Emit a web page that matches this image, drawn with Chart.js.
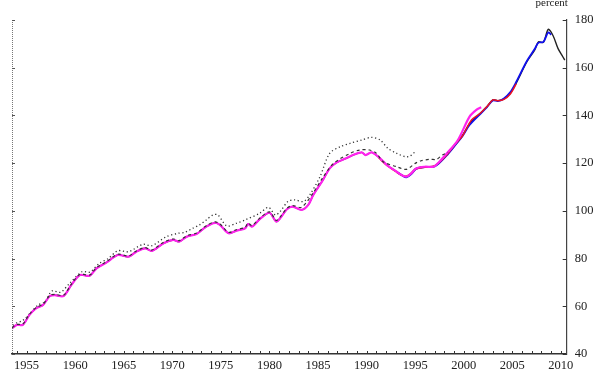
<!DOCTYPE html>
<html>
<head>
<meta charset="utf-8">
<script src="https://cdn.jsdelivr.net/npm/chart.js@4.4.1/dist/chart.umd.min.js"></script>
<style>
  html, body { margin: 0; padding: 0; background: #fff; }
  #wrap { width: 600px; height: 381px; position: relative; }
</style>
</head>
<body>
<div id="wrap"><canvas id="c" width="600" height="381"></canvas></div>
<script>
// ---- data ----
const mainYears = [1953.5,1954.0,1954.6,1955.3,1956.0,1956.7,1957.4,1957.9,1958.8,1959.6,1960.5,1961.5,1962.2,1963.2,1964.4,1965.5,1966.3,1967.2,1967.9,1969.1,1970.1,1970.7,1971.5,1972.5,1973.5,1974.4,1974.9,1975.8,1976.6,1977.5,1977.8,1978.2,1979.0,1980.0,1980.7,1981.1,1981.8,1982.4,1983.3,1984.0,1984.5,1985.5,1986.2,1986.9,1987.9,1988.6,1989.5,1989.9,1990.5,1991.2,1992.1,1993.1,1993.6,1994.1,1994.6,1995.1,1996.0,1996.9,1997.4,1998.2,1999.1,1999.9,2000.6,2001.7,2002.4,2003.0,2003.5,2004.1,2004.8,2005.4,2006.5,2007.3,2007.7,2008.2,2008.7,2009.2,2009.7,2010.2,2010.4];
const mainValues = [50.8,52.2,52.2,56.4,59.2,60.6,64.3,64.7,64.3,68.9,73.1,72.8,75.9,78.3,81.5,80.8,82.9,84.3,83.2,86.4,87.8,87.1,89.2,90.3,93.4,95.0,94.1,90.6,91.7,92.7,94.5,93.4,96.5,99.2,95.5,96.9,100.7,101.8,100.4,102.5,106.6,112.9,117.8,120.2,122.0,123.4,124.5,123.4,124.5,122.7,119.2,116.4,115.0,114.3,115.7,117.8,118.5,118.5,119.9,123.4,127.6,131.8,136.5,140.9,143.7,146.5,146.2,146.8,149.3,153.5,162.5,167.4,170.9,170.6,176.1,173.4,168.1,164.6,163.2];

const magentaYears = [1953.5,1954.0,1954.6,1955.3,1956.0,1956.7,1957.4,1957.9,1958.8,1959.6,1960.5,1961.5,1962.2,1963.2,1964.4,1965.5,1966.3,1967.2,1967.9,1969.1,1970.1,1970.7,1971.5,1972.5,1973.5,1974.4,1974.9,1975.8,1976.6,1977.5,1977.8,1978.2,1979.0,1980.0,1980.7,1981.1,1981.8,1982.4,1983.3,1984.0,1984.5,1985.5,1986.2,1986.9,1987.9,1988.6,1989.5,1989.9,1990.5,1991.2,1992.1,1993.1,1993.6,1994.1,1994.6,1995.1,1996.0,1996.9,1997.4,1998.2,1999.4,2000.6,2001.3,2001.8];
const magentaValues = [50.8,52.2,52.2,56.4,59.2,60.6,64.3,64.7,64.3,68.9,73.1,72.8,75.9,78.3,81.5,80.8,82.9,84.3,83.2,86.4,87.8,87.1,89.2,90.3,93.4,95.0,94.1,90.6,91.7,92.7,94.5,93.4,96.5,99.2,95.5,96.9,100.7,101.8,100.4,102.5,106.6,112.9,117.8,120.2,122.0,123.4,124.5,123.4,124.5,122.7,119.2,116.4,115.0,114.3,115.7,117.8,118.5,118.5,120.2,123.8,129.7,139.5,142.3,143.4];

const redYears = [1991.2,1992.1,1993.1,1993.6,1994.1,1994.6,1995.1,1996.0,1996.9,1997.4,1998.2,1999.1,1999.9,2000.8,2001.7,2002.4,2003.0,2003.5,2004.1,2004.8,2005.4];
const redValues = [122.5,119.0,116.2,115.0,114.5,115.8,117.6,118.3,118.7,120.0,123.2,127.8,131.6,138.1,140.9,143.7,146.5,146.2,146.6,149.0,153.2];

const blueYears = [1993.1,1993.6,1994.1,1994.6,1995.1,1996.0,1996.9,1997.4,1998.2,1999.1,1999.9,2000.6,2001.7,2002.4,2003.0,2003.5,2004.1,2004.8,2005.4,2006.5,2007.3,2007.7,2008.2,2008.7,2009.0];
const blueValues = [116.4,115.0,114.0,115.4,117.6,118.3,118.5,119.7,123.0,127.4,131.5,136.0,140.6,143.5,146.3,146.0,147.0,149.8,154.0,162.8,167.8,170.5,170.8,174.8,173.8];

const dashedYears = [1953.5,1954.0,1954.6,1955.3,1956.0,1956.7,1957.4,1957.9,1958.8,1959.6,1960.5,1961.5,1962.2,1963.2,1964.4,1965.5,1966.3,1967.2,1967.9,1969.1,1970.1,1970.7,1971.5,1972.5,1973.5,1974.4,1974.9,1975.8,1976.6,1977.5,1977.8,1978.2,1979.0,1980.0,1980.7,1981.1,1981.8,1982.4,1983.3,1984.5,1985.5,1986.6,1988.3,1989.3,1990.3,1991.0,1991.7,1993.1,1994.1,1995.0,1995.6,1996.5,1997.2,1997.8,1998.4];
const dashedValues = [51.0,52.4,52.5,56.7,59.5,60.9,64.6,65.0,64.6,69.2,73.4,73.1,76.2,78.6,81.8,81.1,83.2,84.6,83.6,86.8,88.2,87.5,89.6,90.7,93.8,95.4,94.5,91.0,92.1,93.1,94.9,93.8,96.9,99.6,96.0,97.4,101.1,102.2,101.5,107.5,114.0,119.9,124.1,125.5,125.5,124.2,120.6,118.5,117.4,119.9,121.0,121.6,121.6,123.4,124.5];

const dottedYears = [1953.6,1954.0,1954.6,1955.5,1956.2,1956.9,1957.6,1958.5,1959.4,1960.7,1961.5,1962.5,1963.4,1964.4,1965.5,1967.0,1967.9,1969.4,1970.6,1971.3,1972.1,1972.8,1973.5,1974.2,1974.7,1975.6,1976.6,1977.5,1979.0,1979.9,1980.6,1981.1,1981.9,1982.6,1983.5,1984.2,1985.2,1986.2,1987.3,1988.3,1989.5,1990.5,1991.4,1992.2,1993.1,1994.0,1994.5,1995.0];
const dottedValues = [52.0,53.1,54.0,57.7,60.6,61.9,66.4,65.9,69.5,74.5,74.3,78.0,80.0,83.3,82.9,86.0,85.4,89.2,90.6,91.0,92.7,94.1,96.2,98.3,98.3,93.7,94.8,96.2,99.0,101.5,98.3,99.7,103.9,104.6,103.9,107.0,114.3,124.1,126.9,128.3,129.7,130.8,129.7,126.2,124.1,122.7,123.0,124.8];

const yTickValues = [40,60,80,100,120,140,160,180];
const xLabelYears = [1955,1960,1965,1970,1975,1980,1985,1990,1995,2000,2005,2010];
const xMinorFirst = 1954, xMinorLast = 2010;
const unitLabel = 'percent';

function pts(xs, ys) { return xs.map((x, i) => ({x: x, y: ys[i]})); }

const SERIF = '"Liberation Serif", "DejaVu Serif", serif';

const axisDeco = {
  id: 'axisDeco',
  afterDraw(chart) {
    const ctx = chart.ctx, a = chart.chartArea;
    const xs = chart.scales.x, ys = chart.scales.y;
    ctx.save();
    // left dotted axis
    ctx.strokeStyle = '#777';
    ctx.lineWidth = 1;
    ctx.setLineDash([1, 1]);
    ctx.beginPath();
    ctx.moveTo(a.left + 0.5, a.top);
    ctx.lineTo(a.left + 0.5, a.bottom);
    ctx.stroke();
    ctx.setLineDash([]);
    // left ticks
    ctx.strokeStyle = '#555';
    yTickValues.forEach(v => {
      const y = Math.round(ys.getPixelForValue(v)) + 0.5;
      ctx.beginPath(); ctx.moveTo(a.left, y); ctx.lineTo(a.left + 3, y); ctx.stroke();
    });
    // right ticks
    ctx.strokeStyle = '#333';
    yTickValues.forEach(v => {
      const y = Math.round(ys.getPixelForValue(v)) + 0.5;
      ctx.beginPath(); ctx.moveTo(a.right, y); ctx.lineTo(a.right - 4, y); ctx.stroke();
    });
    // bottom ticks (every year)
    for (let yr = xMinorFirst; yr <= xMinorLast; yr++) {
      const x = Math.round(xs.getPixelForValue(yr)) + 0.5;
      ctx.beginPath(); ctx.moveTo(x, a.bottom); ctx.lineTo(x, a.bottom - 3); ctx.stroke();
    }
    // unit label
    ctx.fillStyle = '#222';
    ctx.font = '11px ' + SERIF;
    ctx.textAlign = 'center';
    ctx.textBaseline = 'alphabetic';
    ctx.fillText(unitLabel, a.right - 15, 6);
    ctx.restore();
  }
};

new Chart(document.getElementById('c'), {
  type: 'line',
  data: {
    datasets: [
      { data: pts(dashedYears, dashedValues), borderColor: '#333', borderWidth: 1.2, borderDash: [3, 3], order: 0 },
      { data: pts(magentaYears, magentaValues), borderColor: '#ff22ee', borderWidth: 2.2, order: 1 },
      { data: pts(redYears, redValues), borderColor: '#ee1122', borderWidth: 1.5, order: 2 },
      { data: pts(blueYears, blueValues), borderColor: '#1010ee', borderWidth: 1.8, order: 3 },
      { data: pts(dottedYears, dottedValues), borderColor: '#333', borderWidth: 1.3, borderDash: [1.2, 2.6], order: 4 },
      { data: pts(mainYears, mainValues), borderColor: '#222', borderWidth: 1.4, order: 6 }
    ]
  },
  options: {
    responsive: false,
    animation: false,
    elements: { point: { radius: 0 }, line: { tension: 0.3, fill: false } },
    layout: { padding: { left: 12, top: 20, right: 0, bottom: 0 } },
    plugins: { legend: { display: false }, tooltip: { enabled: false }, title: { display: false } },
    scales: {
      x: {
        type: 'linear',
        position: 'bottom',
        min: 1953.5,
        max: 2010.6,
        afterFit(s) { s.height = 27; },
        afterBuildTicks(s) { s.ticks = xLabelYears.map(v => ({ value: v })); },
        grid: { display: false, drawTicks: false },
        border: { display: true, color: '#333', width: 1.5 },
        ticks: {
          autoSkip: false,
          maxRotation: 0,
          padding: 4,
          color: '#222',
          font: { family: SERIF, size: 12.5 },
          callback: (v) => String(v)
        }
      },
      y: {
        type: 'linear',
        position: 'right',
        min: 40,
        max: 180,
        afterFit(s) { s.width = 33.3; },
        grid: { display: false, drawTicks: false },
        border: { display: true, color: '#444', width: 1.2 },
        afterBuildTicks(s) { s.ticks = yTickValues.map(v => ({ value: v })); },
        ticks: {
          padding: 8,
          color: '#222',
          font: { family: SERIF, size: 12.5 }
        }
      }
    }
  },
  plugins: [axisDeco]
});
</script>
</body>
</html>
